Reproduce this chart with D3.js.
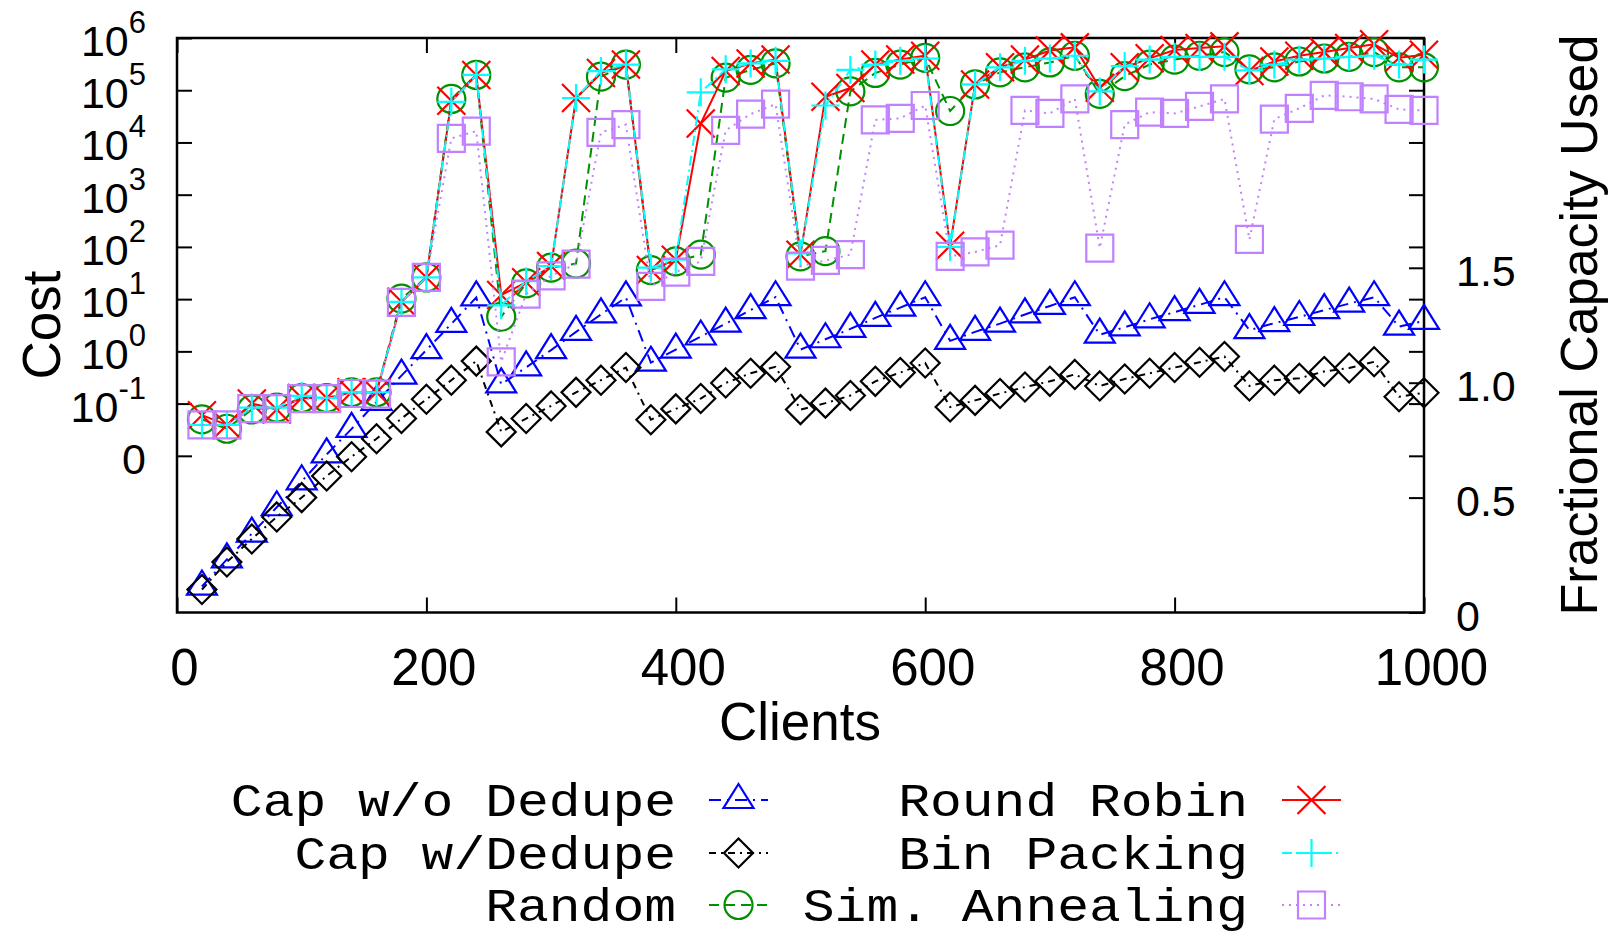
<!DOCTYPE html>
<html><head><meta charset="utf-8">
<script src="https://cdn.jsdelivr.net/npm/d3@7/dist/d3.min.js"></script>
<style>body{margin:0;background:#fff}svg{display:block}</style>
</head><body>
<svg id="chart" width="1617" height="935"></svg>
<script>
// ---------------- data ----------------
const clients = [20,40,60,80,100,120,140,160,180,200,220,240,260,280,300,320,340,360,380,400,420,440,460,480,500,520,540,560,580,600,620,640,660,680,700,720,740,760,780,800,820,840,860,880,900,920,940,960,980,1000];

// Fractional capacity used (right axis)
const capNoDedupe = [0.113,0.231,0.343,0.458,0.571,0.688,0.799,0.916,1.031,1.142,1.256,1.371,0.993,1.067,1.142,1.221,1.297,1.371,1.087,1.144,1.201,1.257,1.316,1.372,1.144,1.189,1.234,1.282,1.327,1.372,1.182,1.221,1.257,1.297,1.334,1.372,1.209,1.241,1.276,1.307,1.339,1.372,1.229,1.259,1.286,1.316,1.344,1.372,1.244,1.269];
const capDedupe = [0.100,0.220,0.320,0.416,0.500,0.594,0.678,0.756,0.844,0.928,1.011,1.094,0.786,0.844,0.899,0.958,1.011,1.066,0.839,0.886,0.931,0.999,1.041,1.069,0.883,0.911,0.944,1.006,1.044,1.086,0.894,0.923,0.953,0.981,1.006,1.036,0.986,1.016,1.041,1.066,1.089,1.114,0.986,1.011,1.019,1.049,1.064,1.091,0.939,0.956];

// Cost (left, log axis)
const randomCost = [0.050,0.033,0.077,0.084,0.128,0.128,0.165,0.165,10.2,26,68000,196000,4.6,20,40,48,182000,310000,36,53,71,174000,245000,326000,66,83,95000,214000,310000,417000,40000,129000,220000,275000,340000,457000,85000,186000,310000,386000,457000,537000,251000,275000,355000,405000,436000,537000,275000,275000];
const roundRobin = [0.060,0.039,0.100,0.077,0.128,0.128,0.165,0.165,8.9,26,63000,196000,12,21,43,71000,214000,310000,36,57,23000,233000,326000,386000,71,75000,110000,310000,386000,457000,105,129000,275000,386000,575000,662000,112000,275000,408000,589000,645000,692000,233000,355000,457000,537000,645000,759000,417000,479000];
const binPacking = [0.039,0.039,0.084,0.084,0.14,0.128,0.165,0.165,8.9,26,60000,196000,7.6,22,43,71000,233000,310000,40,57,91000,251000,326000,366000,75,51000,245000,310000,366000,405000,100,129000,275000,366000,405000,457000,95000,290000,386000,436000,436000,436000,240000,310000,386000,405000,436000,457000,310000,386000];
const simAnneal = [0.039,0.039,0.080,0.080,0.124,0.124,0.156,0.152,8.7,26,12000,16500,0.63,12.5,28,47,15600,22000,17.6,33,53,17000,35000,54000,43,55,71,27000,29000,51000,66,80,108,41000,36000,68000,95,22000,38000,36000,49000,68000,139,28000,45000,80000,75000,68000,43000,41000];

const xTickValues = [0,200,400,600,800,1000];
const costTickValues = [1e-2,1e-1,1e0,1e1,1e2,1e3,1e4,1e5,1e6];
const costTickLabels = [["0",""],["10","-1"],["10","0"],["10","1"],["10","2"],["10","3"],["10","4"],["10","5"],["10","6"]];
const capTickValues = [0,0.5,1.0,1.5];
const capTickLabels = ["0","0.5","1.0","1.5"];

const seriesNames = ["Cap w/o Dedupe","Cap w/Dedupe","Random","Round Robin","Bin Packing","Sim. Annealing"];

// ---------------- styles ----------------
const styles = [
  {vals:capNoDedupe, axis:"right", color:"#0000ff", dash:"12,6,2,6", marker:"triangle"},
  {vals:capDedupe,   axis:"right", color:"#000000", dash:"7,5,2,5",  marker:"diamond"},
  {vals:randomCost,  axis:"left",  color:"#009000", dash:"10,6",     marker:"circle"},
  {vals:roundRobin,  axis:"left",  color:"#ff0000", dash:null,       marker:"cross"},
  {vals:binPacking,  axis:"left",  color:"#00ffff", dash:"10,4,2,4", marker:"plus"},
  {vals:simAnneal,   axis:"left",  color:"#c080ff", dash:"2,5",      marker:"square"}
];

const L = 177, R = 1424, T = 38, B = 612.5;
const svg = d3.select("#chart");
const sans = "'Liberation Sans', Arial, Helvetica, sans-serif";
const mono = "'Liberation Mono', 'Courier New', monospace";

const x = d3.scaleLinear().domain([0,1000]).range([L,R]);
const yL = d3.scaleLog().domain([1e-5,1e6]).range([B,T]);
const yR = d3.scaleLinear().domain([0,2.5]).range([B,T]);

function styleAxis(g){
  g.select(".domain").remove();
  g.selectAll(".tick line").attr("stroke","#000").attr("stroke-width",2);
}

// bottom x axis with labels
const gx = svg.append("g").attr("transform",`translate(0,${B})`)
  .call(d3.axisBottom(x).tickValues(xTickValues).tickSizeInner(-15).tickSizeOuter(0).tickPadding(36).tickFormat(d3.format("d")));
styleAxis(gx);
gx.selectAll(".tick text").attr("font-family",sans).attr("font-size",51).attr("fill","#000").attr("dx",7);
// top mirror
const gxt = svg.append("g").attr("transform",`translate(0,${T})`)
  .call(d3.axisTop(x).tickValues(xTickValues).tickSizeInner(-15).tickSizeOuter(0).tickFormat(""));
styleAxis(gxt);

// left cost axis ticks
const gyl = svg.append("g").attr("transform",`translate(${L},0)`)
  .call(d3.axisLeft(yL).tickValues(costTickValues).tickSizeInner(-15).tickSizeOuter(0).tickFormat(""));
styleAxis(gyl);
// right mirror of cost ticks
const gylm = svg.append("g").attr("transform",`translate(${R},0)`)
  .call(d3.axisRight(yL).tickValues(costTickValues).tickSizeInner(-15).tickSizeOuter(0).tickFormat(""));
styleAxis(gylm);
// left labels with superscripts
costTickValues.forEach((v,i)=>{
  const yy = yL(v);
  const t = svg.append("text").attr("x",146).attr("y",yy+18).attr("text-anchor","end")
    .attr("font-family",sans).attr("font-size",43).attr("fill","#000");
  t.append("tspan").text(costTickLabels[i][0]);
  if (costTickLabels[i][1]) t.append("tspan").attr("dy",-23).attr("font-size",31).text(costTickLabels[i][1]);
});

// right capacity axis
const gyr = svg.append("g").attr("transform",`translate(${R},0)`)
  .call(d3.axisRight(yR).tickValues(capTickValues).tickSizeInner(-15).tickSizeOuter(0).tickPadding(32).tickFormat((d,i)=>capTickLabels[i]));
styleAxis(gyr);
gyr.selectAll(".tick text").attr("font-family",sans).attr("font-size",43).attr("fill","#000").attr("dy","0.35em").attr("transform","translate(0,3)");

// frame
svg.append("rect").attr("x",L).attr("y",T).attr("width",R-L).attr("height",B-T)
  .attr("fill","none").attr("stroke","#000").attr("stroke-width",2.5);

// axis titles
svg.append("text").attr("transform","translate(60,325) rotate(-90)").attr("text-anchor","middle")
  .attr("font-family",sans).attr("font-size",53).text("Cost");
svg.append("text").attr("transform","translate(1597,325) rotate(-90)").attr("text-anchor","middle")
  .attr("font-family",sans).attr("font-size",52).text("Fractional Capacity Used");
svg.append("text").attr("x",800).attr("y",740).attr("text-anchor","middle")
  .attr("font-family",sans).attr("font-size",53).text("Clients");

// markers
function drawMarker(g, type, cx, cy, color){
  if (type==="circle"){
    g.append("circle").attr("cx",cx).attr("cy",cy).attr("r",14)
      .attr("fill","none").attr("stroke",color).attr("stroke-width",2.2);
    return;
  }
  const paths = {
    triangle:"M0,-16L15,8L-15,8Z",
    diamond:"M0,-14.5L14.5,0L0,14.5L-14.5,0Z",
    cross:"M-14,-14L14,14M-14,14L14,-14",
    plus:"M-14,0L14,0M0,-14L0,14",
    square:"M-13.5,-13.5h27v27h-27Z"
  };
  g.append("path").attr("d",paths[type]).attr("transform",`translate(${cx},${cy})`)
    .attr("fill","none").attr("stroke",color).attr("stroke-width",2.2);
}

// series
styles.forEach((s)=>{
  const ys = s.axis==="left" ? yL : yR;
  const g = svg.append("g");
  const line = d3.line().x((d,i)=>x(clients[i])).y(d=>ys(d));
  g.append("path").attr("d",line(s.vals)).attr("fill","none").attr("stroke",s.color)
    .attr("stroke-width",2).attr("stroke-dasharray",s.dash||null);
  s.vals.forEach((v,i)=>drawMarker(g,s.marker,x(clients[i]),ys(v),s.color));
});

// legend
const legendPos = [
  {tx:676, lx0:709, lx1:768, y:800},
  {tx:676, lx0:709, lx1:768, y:853},
  {tx:676, lx0:709, lx1:768, y:905},
  {tx:1248, lx0:1282, lx1:1341, y:800},
  {tx:1248, lx0:1282, lx1:1341, y:853},
  {tx:1248, lx0:1282, lx1:1341, y:905}
];
styles.forEach((s,i)=>{
  const p = legendPos[i];
  const g = svg.append("g");
  const name = seriesNames[i];
  g.append("text").attr("x",p.tx).attr("y",p.y+16).attr("text-anchor","end")
    .attr("font-family",mono).attr("font-size",46).attr("fill","#000")
    .attr("textLength",name.length*31.8).attr("lengthAdjust","spacingAndGlyphs").text(name);
  g.append("line").attr("x1",p.lx0).attr("x2",p.lx1).attr("y1",p.y).attr("y2",p.y)
    .attr("stroke",s.color).attr("stroke-width",2).attr("stroke-dasharray",s.dash||null);
  drawMarker(g,s.marker,(p.lx0+p.lx1)/2,p.y,s.color);
});
</script>
</body></html>
